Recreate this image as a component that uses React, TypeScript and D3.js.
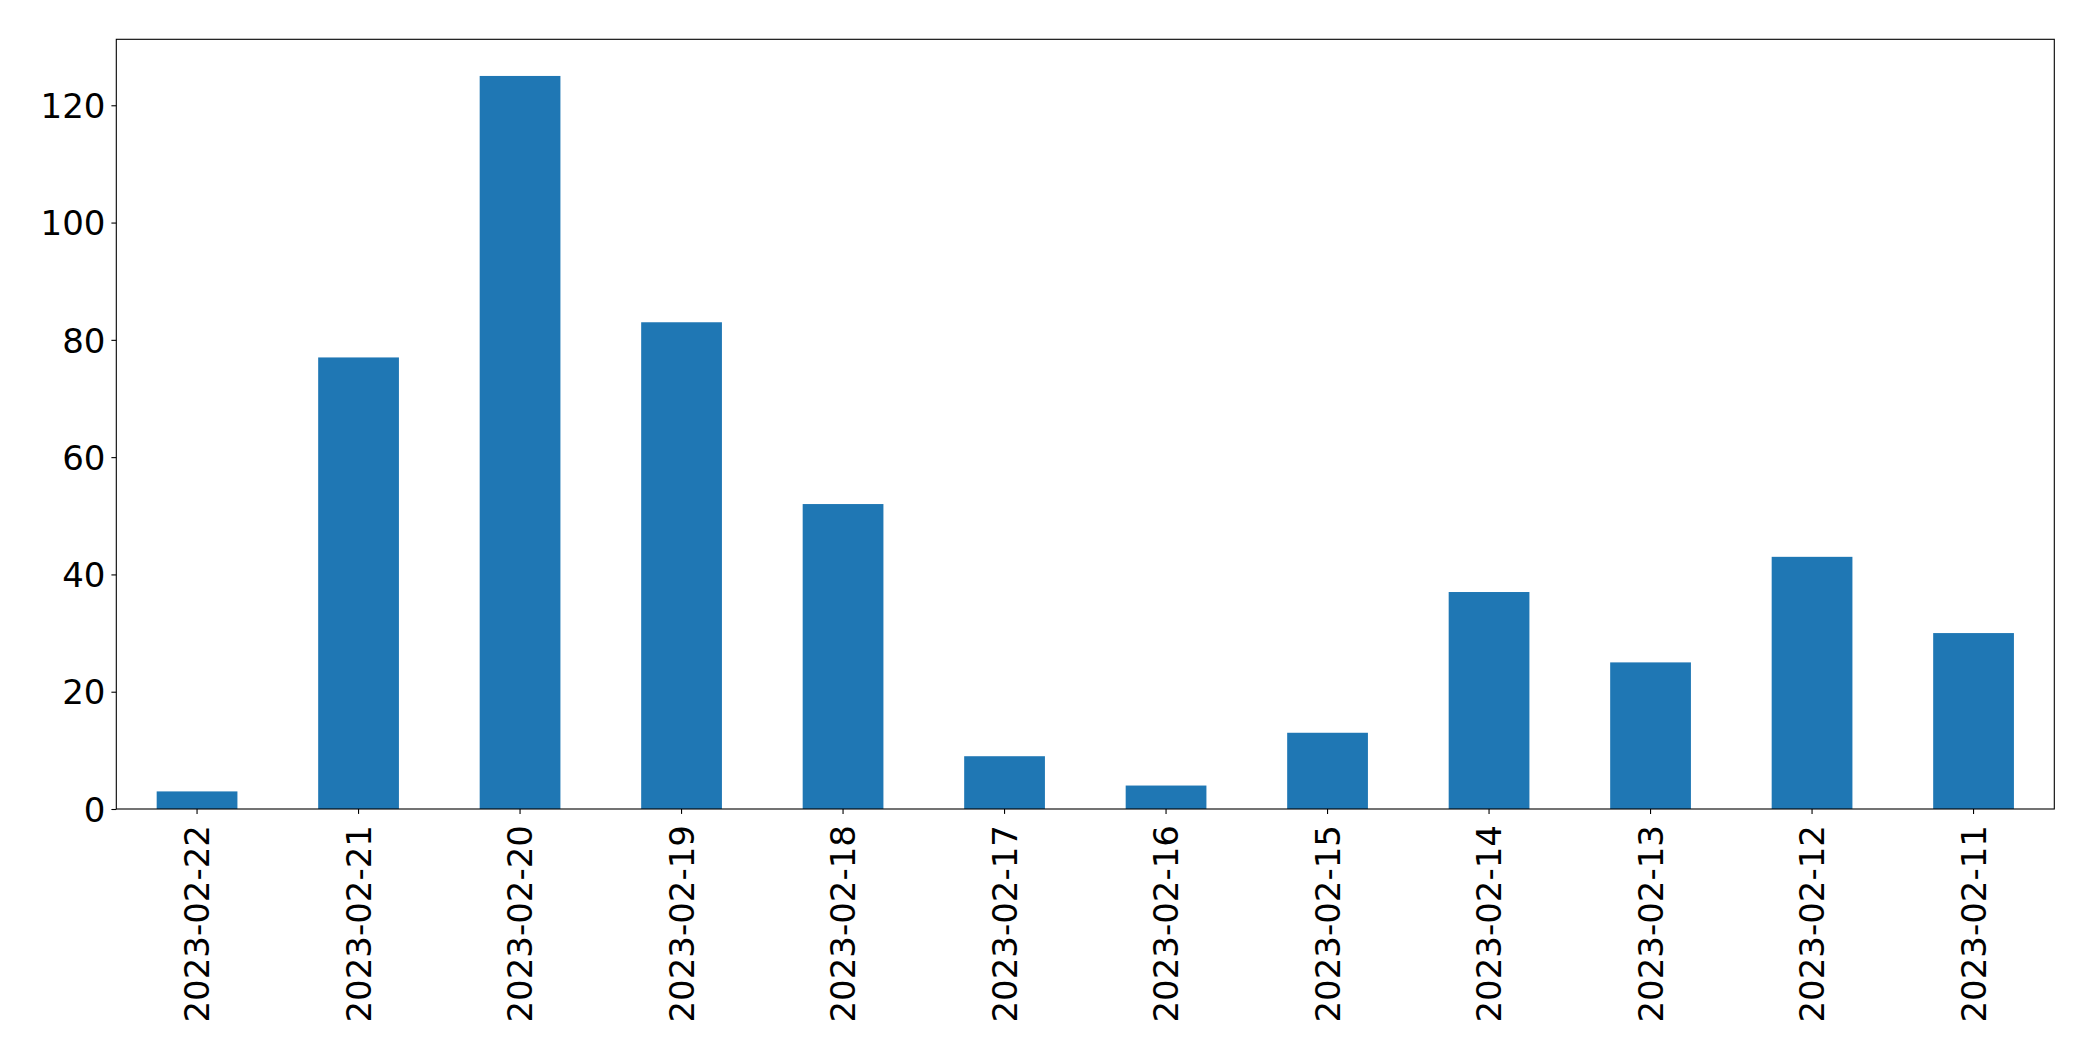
import React, { useRef, useEffect } from "react";
import * as d3 from "d3";

const dates = [
  "2023-02-22", "2023-02-21", "2023-02-20", "2023-02-19", "2023-02-18", "2023-02-17",
  "2023-02-16", "2023-02-15", "2023-02-14", "2023-02-13", "2023-02-12", "2023-02-11",
];
const counts = [3, 77, 125, 83, 52, 9, 4, 13, 37, 25, 43, 30];
const yTicks = [0, 20, 40, 60, 80, 100, 120];

const App = () => {
  const chartRef = useRef<SVGSVGElement>(null);

  useEffect(() => {
    const svg = d3.select(chartRef.current);
    svg.selectAll("*").remove();

    // Plot area, matched to the reference
    const left = 116.3;
    const right = 2054.3;
    const top = 39.3;
    const bottom = 809;
    const fontSize = 34;
    const font = "'DejaVu Sans', sans-serif";

    const x = d3
      .scaleBand<string>()
      .domain(dates)
      .range([left, right])
      .paddingInner(0.5)
      .paddingOuter(0.25);

    const yMax = d3.max(counts)! * 1.05;
    const y = d3.scaleLinear().domain([0, yMax]).range([bottom, top]);

    const data = dates.map((d, i) => ({ date: d, value: counts[i] }));

    // Bars
    svg
      .append("g")
      .selectAll("rect")
      .data(data)
      .enter()
      .append("rect")
      .attr("x", (d) => x(d.date)!)
      .attr("y", (d) => y(d.value))
      .attr("width", x.bandwidth())
      .attr("height", (d) => y(0) - y(d.value))
      .attr("fill", "#1f77b4");

    // Y axis
    const yAxis = d3
      .axisLeft(y)
      .tickValues(yTicks)
      .tickSize(4.9)
      .tickPadding(6)
      .tickFormat((d) => String(d));
    const gy = svg.append("g").attr("transform", `translate(${left},0)`).call(yAxis);
    gy.select(".domain").remove();
    gy.selectAll("line").attr("stroke", "#000").attr("stroke-width", 1.1);
    gy.selectAll("text")
      .attr("font-family", font)
      .attr("font-size", fontSize)
      .attr("fill", "#000")
      .attr("dy", "0.36em");

    // X axis
    const xAxis = d3.axisBottom(x).tickSize(4.9).tickSizeOuter(0);
    const gx = svg.append("g").attr("transform", `translate(0,${bottom})`).call(xAxis);
    gx.select(".domain").remove();
    gx.selectAll("line").attr("stroke", "#000").attr("stroke-width", 1.1);
    gx.selectAll("text")
      .attr("font-family", font)
      .attr("font-size", fontSize)
      .attr("fill", "#000")
      .attr("text-anchor", "end")
      .attr("dominant-baseline", "central")
      .attr("x", 0)
      .attr("y", 0)
      .attr("dy", null)
      .attr("transform", "translate(0,16) rotate(-90)");

    // Frame
    svg
      .append("rect")
      .attr("x", left)
      .attr("y", top)
      .attr("width", right - left)
      .attr("height", bottom - top)
      .attr("fill", "none")
      .attr("stroke", "#000")
      .attr("stroke-width", 1.1);
  }, []);

  return (
    <svg
      ref={chartRef}
      width={2093}
      height={1061}
      style={{ position: "absolute", left: 0, top: 0, background: "#fff" }}
    />
  );
};

export default App;
